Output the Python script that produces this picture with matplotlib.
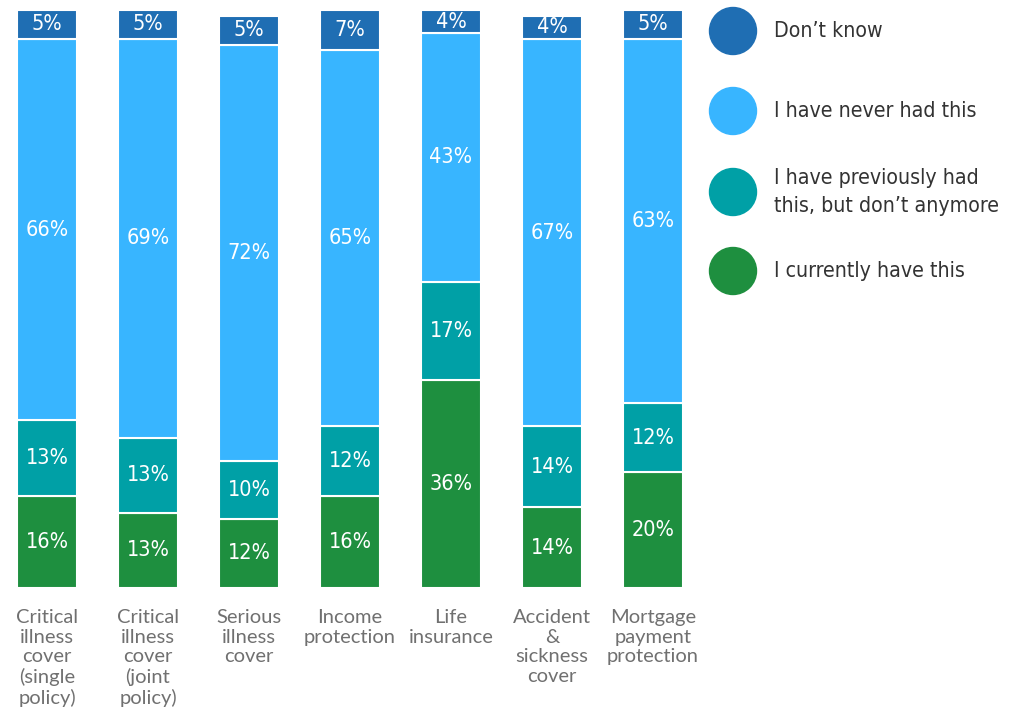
import matplotlib
matplotlib.use("Agg")
import matplotlib.pyplot as plt
from matplotlib import font_manager as fm
from matplotlib.font_manager import FontProperties
import numpy as np
import os

categories = ["Critical\nillness\ncover\n(single\npolicy)",
              "Critical\nillness\ncover\n(joint\npolicy)",
              "Serious\nillness\ncover",
              "Income\nprotection",
              "Life\ninsurance",
              "Accident\n&\nsickness\ncover",
              "Mortgage\npayment\nprotection"]
currently = [16, 13, 12, 16, 36, 14, 20]
previously = [13, 13, 10, 12, 17, 14, 12]
never = [66, 69, 72, 65, 43, 67, 63]
dont_know = [5, 5, 5, 7, 4, 4, 5]

series_names = ["I currently have this", "I have previously had\nthis, but don\u2019t anymore",
                "I have never had this", "Don\u2019t know"]
colors = ["#1e8f3f", "#00a0a6", "#38b5ff", "#1f6eb3"]

# find a condensed font file if one is installed
cond_path = None
cands = []
for f in fm.fontManager.ttflist:
    base = os.path.basename(f.fname).lower()
    if ("condensed" in base or "narrow" in base) and "bold" not in base and "oblique" not in base and "italic" not in base:
        cands.append(f.fname)
pref = ["dejavusanscondensed.ttf", "liberationsansnarrow-regular.ttf"]
for p in pref:
    for c in cands:
        if os.path.basename(c).lower() == p:
            cond_path = c
            break
    if cond_path:
        break
if cond_path is None and cands:
    cond_path = sorted(cands)[0]

def cprop(size):
    if cond_path:
        return FontProperties(fname=cond_path, size=size)
    return FontProperties(family="Lato", size=size * 0.92)

fig = plt.figure(figsize=(10.17, 7.12), dpi=100)
W, H = 1017, 712
ax = fig.add_axes([0, (H - 588) / H, 700 / W, 578 / H])
x = np.arange(len(categories))
data = [currently, previously, never, dont_know]
bottom = np.zeros(len(categories))
for vals, col in zip(data, colors):
    vals = np.array(vals, dtype=float)
    ax.bar(x, vals, width=0.6, bottom=bottom, color=col, edgecolor="white", linewidth=1.5)
    for xi, b, v in zip(x, bottom, vals):
        ax.text(xi, b + v / 2, f"{int(v)}%", ha="center", va="center", color="white",
                fontproperties=cprop(15.5))
    bottom += vals

ax.set_xlim(-47 / 101, -47 / 101 + 700 / 101)
ax.set_ylim(0, 100)
ax.axis("off")
for xi, lab in zip(x, categories):
    ax.text(xi, -3.7, lab, ha="center", va="top", fontsize=14.5, color="#707070",
            family="Lato", linespacing=1.18)

# legend
lax = fig.add_axes([0, 0, 1, 1])
lax.set_xlim(0, W)
lax.set_ylim(H, 0)
lax.axis("off")
leg_y = [31, 111, 192, 271]
leg_text_y = [31, 111, 192, 271]
order = [3, 2, 1, 0]
for yy, ty, idx in zip(leg_y, leg_text_y, order):
    lax.add_patch(plt.Circle((733, yy), 23.5, color=colors[idx]))
    lax.text(774, ty, series_names[idx], ha="left", va="center",
             color="#333333", fontproperties=cprop(15.3), linespacing=1.55)

fig.savefig("out.png", dpi=100)
